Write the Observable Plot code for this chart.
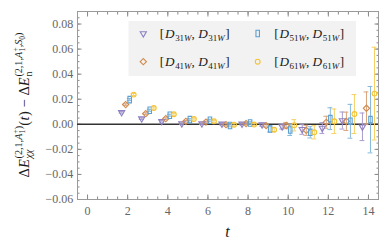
<!DOCTYPE html>
<html><head><meta charset="utf-8">
<script src="https://cdn.jsdelivr.net/npm/d3@7"></script>
<script src="https://cdn.jsdelivr.net/npm/@observablehq/plot@0.6"></script>
<style>body{margin:0;background:#fff}#chart svg{display:block}</style>
</head><body><div id="chart"></div>
<script>
// ---------- data ----------
const tValues = [2, 3, 4, 5, 6, 7, 8, 9, 10, 11, 12, 13, 14];
const seriesKeys = ["31", "41", "51", "61"];
const vals31 = [0.0095, 0.0045, 0.0024, 0.0006, 0.0005, 0.0003, 0.0003, -0.0003, -0.0018, -0.0040, -0.0030, 0.0030, -0.0020];
const errs31 = [0.0006, 0.0006, 0.0006, 0.0006, 0.0006, 0.0008, 0.0008, 0.0012, 0.0020, 0.0040, 0.0043, 0.0068, 0.0110];
const vals41 = [0.0157, 0.0085, 0.0045, 0.0024, 0.0018, -0.0003, 0.0006, -0.0010, -0.0010, -0.0048, 0.0016, 0.0024, 0.0128];
const errs41 = [0.0006, 0.0006, 0.0006, 0.0006, 0.0006, 0.0008, 0.0008, 0.0012, 0.0025, 0.0040, 0.0048, 0.0073, 0.0130];
const vals51 = [0.0197, 0.0112, 0.0072, 0.0037, 0.0032, -0.0010, 0.0010, -0.0037, -0.0045, -0.0064, 0.0045, 0.0024, 0.0037];
const errs51 = [0.0008, 0.0008, 0.0008, 0.0008, 0.0008, 0.0010, 0.0010, 0.0024, 0.0044, 0.0045, 0.0087, 0.0135, 0.0265];
const vals61 = [0.0237, 0.0130, 0.0080, 0.0042, 0.0024, -0.0003, -0.0002, -0.0043, -0.0008, -0.0064, 0.0024, 0.0082, 0.0245];
const errs61 = [0.0008, 0.0008, 0.0008, 0.0008, 0.0008, 0.0010, 0.0010, 0.0015, 0.0045, 0.0053, 0.0098, 0.0155, 0.0370];
const xMajorTicks = [0, 2, 4, 6, 8, 10, 12, 14];
const yMajorTicks = [-0.06, -0.04, -0.02, 0.00, 0.02, 0.04, 0.06, 0.08];

// ---------- styles ----------
const SERIF = "'Liberation Serif', 'DejaVu Serif', serif";
const colors = ["#8e80c2", "#d08a4e", "#5aa0d2", "#f4c232"];
const barColors = ["#a89ccf", "#d9a47a", "#86b9dc", "#f6d063"];
const offsets = [-0.3, -0.1, 0.1, 0.3];
const tallRect = {
  draw(ctx, size) {
    const s = Math.sqrt(size / Math.PI);
    const w = s * 1.45, h = s * 2.7;
    ctx.moveTo(-w / 2, -h / 2); ctx.lineTo(w / 2, -h / 2); ctx.lineTo(w / 2, h / 2); ctx.lineTo(-w / 2, h / 2); ctx.closePath();
  }
};
const symbols = [d3.symbolTriangle, d3.symbolSquare, tallRect, d3.symbolCircle];
const rotations = [180, 45, 0, 0];
const radii = [2.3, 2.5, 2.4, 2.4];

const allVals = [vals31, vals41, vals51, vals61];
const allErrs = [errs31, errs41, errs51, errs61];

const seriesData = seriesKeys.map((k, i) => tValues.map((t, j) => ({
  key: k, x: t + offsets[i], y: allVals[i][j], lo: allVals[i][j] - allErrs[i][j], hi: allVals[i][j] + allErrs[i][j]
})));

const capHalf = 0.12;
const marks = [];
seriesData.forEach((data, i) => {
  marks.push(Plot.ruleX(data, {x: "x", y1: "lo", y2: "hi", stroke: barColors[i], strokeWidth: 1}));
  marks.push(Plot.ruleY(data, {y: "lo", x1: d => d.x - capHalf, x2: d => d.x + capHalf, stroke: barColors[i], strokeWidth: 1}));
  marks.push(Plot.ruleY(data, {y: "hi", x1: d => d.x - capHalf, x2: d => d.x + capHalf, stroke: barColors[i], strokeWidth: 1}));
});
seriesData.forEach((data, i) => {
  marks.push(Plot.dot(data, {x: "x", y: "y", symbol: symbols[i], rotate: rotations[i], r: radii[i], stroke: colors[i], strokeWidth: 1.1, fill: "white", fillOpacity: 0}));
});

const xMinor = d3.range(-0.5, 14.51, 0.5);
const yMinor = d3.range(-0.06, 0.0901, 0.005).map(v => +v.toFixed(4));
const tickColor = "#8a8a8a";

const plot = Plot.plot({
  width: 390, height: 248,
  marginLeft: 77, marginRight: 12, marginTop: 11, marginBottom: 49,
  x: {domain: [-0.5, 14.5]},
  y: {domain: [-0.06, 0.09]},
  style: {fontFamily: SERIF, background: "white"},
  marks: [
    Plot.axisX(xMinor, {anchor: "bottom", tickSize: -2.5, fill: "none", stroke: tickColor, label: null}),
    Plot.axisX(xMinor, {anchor: "top", tickSize: -2.5, fill: "none", stroke: tickColor, label: null}),
    Plot.axisY(yMinor, {anchor: "left", tickSize: -2.5, fill: "none", stroke: tickColor, label: null}),
    Plot.axisY(yMinor, {anchor: "right", tickSize: -2.5, fill: "none", stroke: tickColor, label: null}),
    Plot.axisX(xMajorTicks, {anchor: "bottom", tickSize: -4.5, tickPadding: 11.5, stroke: tickColor, color: "#666", fontSize: 12, label: null, tickFormat: d => String(d)}),
    Plot.axisX(xMajorTicks, {anchor: "top", tickSize: -4.5, fill: "none", stroke: tickColor, label: null}),
    Plot.axisY(yMajorTicks, {anchor: "left", tickSize: -4.5, tickPadding: 8.8, stroke: tickColor, color: "#666", fontSize: 12, label: null, tickFormat: d3.format(".2f")}),
    Plot.axisY(yMajorTicks, {anchor: "right", tickSize: -4.5, fill: "none", stroke: tickColor, label: null}),
    Plot.frame({stroke: "#9a9a9a", strokeWidth: 1}),
    Plot.ruleY([0], {stroke: "#333", strokeWidth: 1.4}),
    ...marks
  ]
});
document.getElementById("chart").appendChild(plot);

// ---------- rich text helper: one <text>, positioned <tspan>s ----------
const svg = d3.select(plot);
function layout(textSel, seq, x0) {
  let x = x0;
  for (const p of seq) {
    if (p.stack) {
      let maxEnd = x;
      for (const sub of p.stack) maxEnd = Math.max(maxEnd, layout(textSel, sub, x));
      x = maxEnd;
    } else {
      const el = textSel.append("tspan")
        .attr("x", x).attr("y", p.shift || 0)
        .attr("font-size", p.size)
        .attr("font-style", p.it ? "italic" : "normal")
        .text(p.t);
      x += el.node().getComputedTextLength() + (p.pad || 0);
    }
  }
  return x;
}
function richText(parent, seq) {
  const t = parent.append("text").attr("font-family", SERIF).attr("fill", "#1a1a1a")
    .attr("text-anchor", "start").style("white-space", "pre");
  const w = layout(t, seq, 0);
  return {t, w};
}

// ---------- y label ----------
const B = 14.5, S = B * 0.7, SS = B * 0.52;
const up = -B * 0.42, dn = B * 0.26;
const supA = (extra) => [
  {t: "(2,1,", size: S, shift: up},
  {t: "A", size: S, it: true, shift: up, pad: 0.3},
  {stack: [[{t: "1", size: SS, shift: up + 2.6}], [{t: "+", size: SS, shift: up - 4.2}]]},
  ...extra,
  {t: ")", size: S, shift: up}
];
const ylab = [
  {t: "Δ", size: B},
  {t: "E", size: B, it: true, pad: 0.8},
  {stack: [[{t: "χχ", size: S, it: true, shift: dn}], supA([])]},
  {t: "(", size: B, pad: 0.5}, {t: "t", size: B, it: true, pad: 0.5}, {t: ")", size: B},
  {t: "\u00a0−\u00a0", size: B},
  {t: "Δ", size: B},
  {t: "E", size: B, it: true, pad: 0.8},
  {stack: [[{t: "n", size: S, shift: dn}], supA([{t: ",", size: S, shift: up}, {t: "S", size: S, it: true, shift: up}, {t: "0", size: SS, shift: up + 2.6}])]}
];
const gy = svg.append("g");
const ry = richText(gy, ylab);
gy.attr("transform", `translate(28.5,${105 + ry.w / 2}) rotate(-90)`);

// ---------- x label ----------
svg.append("text").attr("x", 227.5).attr("y", 237).attr("text-anchor", "middle")
  .attr("font-family", SERIF).attr("font-style", "italic").attr("font-size", 16).attr("fill", "#1a1a1a").text("t");

// ---------- legend (flowing tspans in one text) ----------
const leg = svg.append("g");
leg.append("rect").attr("x", 128.5).attr("y", 21).attr("width", 227.5).attr("height", 55).attr("fill", "#f2f2f2");
const legPos = [[143.3, 33.5], [143.3, 61.7], [257.7, 33.5], [257.7, 61.7]];
const L = 13.2, LS = L * 0.68, SUBDY = 3;
seriesKeys.forEach((k, i) => {
  const [sx, sy] = legPos[i];
  const size = Math.PI * radii[i] * radii[i];
  leg.append("path").attr("d", d3.symbol(symbols[i], size)())
    .attr("transform", `translate(${sx},${sy}) rotate(${rotations[i]})`)
    .attr("fill", "none").attr("stroke", colors[i]).attr("stroke-width", 1.1);
  const txt = leg.append("text").attr("x", sx + 16.5).attr("y", sy + 4.6).attr("text-anchor", "start")
    .attr("font-family", SERIF).attr("font-size", L).attr("fill", "#1a1a1a").style("white-space", "pre");
  const addD = (first) => {
    txt.append("tspan").attr("font-style", "italic").attr("dx", first ? 0.8 : 0).text("D");
    txt.append("tspan").attr("font-size", LS).attr("dy", SUBDY).attr("dx", 0.6).text(k);
    txt.append("tspan").attr("font-size", LS).attr("font-style", "italic").text("W");
  };
  txt.append("tspan").text("[");
  addD(true);
  txt.append("tspan").attr("dy", -SUBDY).text(",\u00a0");
  addD(false);
  txt.append("tspan").attr("dy", -SUBDY).attr("dx", 0.5).text("]");
});
</script>
</body></html>
